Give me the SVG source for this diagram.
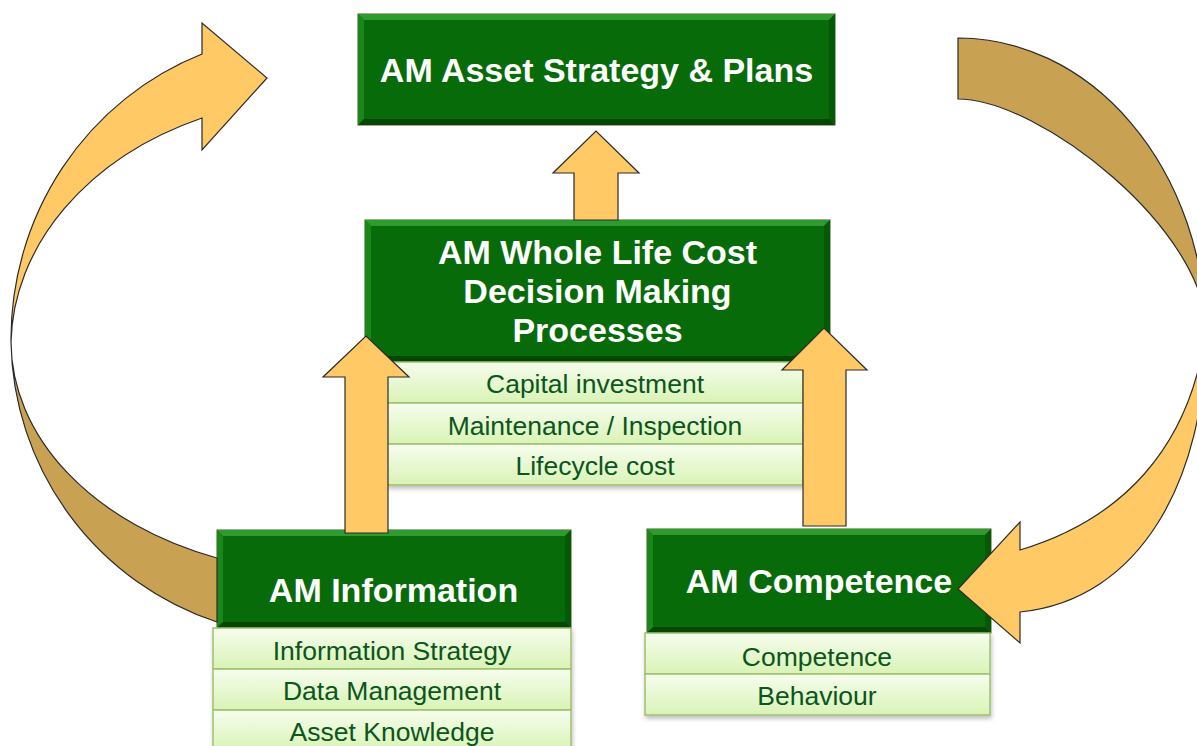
<svg xmlns="http://www.w3.org/2000/svg" width="1197" height="746" viewBox="0 0 1197 746">
<defs>
<linearGradient id="rowg" x1="0" y1="0" x2="0" y2="1">
<stop offset="0" stop-color="#F6FDEE"/>
<stop offset="1" stop-color="#D9F3B6"/>
</linearGradient>
<filter id="sh" x="-5%" y="-5%" width="110%" height="120%">
<feDropShadow dx="1" dy="3" stdDeviation="2" flood-color="#000" flood-opacity="0.25"/>
</filter>
</defs>
<style>
.box{fill:#086B0A;stroke:#6B704A;stroke-width:1.2}
.bt{fill:#2E9B2E}
.bl{fill:#1B871B}
.br{fill:#055805}
.bb{fill:#044704}
.row{fill:url(#rowg);stroke:#9DC16B;stroke-width:1.5}
.title{font-family:"Liberation Sans",Arial,sans-serif;font-weight:bold;font-size:34px;fill:#FFFFFF;text-anchor:middle}
.sub{font-family:"Liberation Sans",Arial,sans-serif;font-size:26.5px;fill:#0B561C;text-anchor:middle}
.al{fill:#FFC966;stroke:#2B2B2B;stroke-width:1.2;stroke-linejoin:miter}
.ad{fill:#C9A152;stroke:#2B2B2B;stroke-width:1.2}
</style>
<rect width="1197" height="746" fill="#FFFFFF"/>

<g id="node-strategy">
<rect class="box" x="358" y="14" width="477" height="111"/>
<polygon class="bt" points="358,14 835,14 829,20 364,20"/>
<polygon class="bl" points="358,14 364,20 364,119 358,125"/>
<polygon class="br" points="835,14 835,125 829,119 829,20"/>
<polygon class="bb" points="358,125 835,125 829,119 364,119"/>
<text class="title" x="596.5" y="82">AM Asset Strategy &amp; Plans</text>
</g>

<g id="node-wlc">
<rect class="box" x="365" y="220" width="465" height="142"/>
<polygon class="bt" points="365,220 830,220 824,226 371,226"/>
<polygon class="bl" points="365,220 371,226 371,356 365,362"/>
<polygon class="br" points="830,220 830,362 824,356 824,226"/>
<polygon class="bb" points="365,362 830,362 824,356 371,356"/>
<text class="title" x="597.5" y="264">AM Whole Life Cost</text>
<text class="title" x="597.5" y="303">Decision Making</text>
<text class="title" x="597.5" y="342">Processes</text>
<g filter="url(#sh)">
<rect class="row" x="387" y="362" width="416" height="41"/>
<rect class="row" x="387" y="403" width="416" height="41"/>
<rect class="row" x="387" y="444" width="416" height="41"/>
</g>
<text class="sub" x="595" y="393">Capital investment</text>
<text class="sub" x="595" y="435">Maintenance / Inspection</text>
<text class="sub" x="595" y="475">Lifecycle cost</text>
</g>

<g id="node-information">
<rect class="box" x="217" y="530" width="354" height="98"/>
<polygon class="bt" points="217,530 571,530 565,536 223,536"/>
<polygon class="bl" points="217,530 223,536 223,622 217,628"/>
<polygon class="br" points="571,530 571,628 565,622 565,536"/>
<polygon class="bb" points="217,628 571,628 565,622 223,622"/>
<text class="title" x="393.5" y="602">AM Information</text>
<g filter="url(#sh)">
<rect class="row" x="213" y="628" width="358" height="41"/>
<rect class="row" x="213" y="669" width="358" height="41"/>
<rect class="row" x="213" y="710" width="358" height="41"/>
</g>
<text class="sub" x="392" y="660">Information Strategy</text>
<text class="sub" x="392" y="700">Data Management</text>
<text class="sub" x="392" y="741">Asset Knowledge</text>
</g>

<g id="node-competence">
<rect class="box" x="647" y="529" width="344" height="104"/>
<polygon class="bt" points="647,529 991,529 985,535 653,535"/>
<polygon class="bl" points="647,529 653,535 653,627 647,633"/>
<polygon class="br" points="991,529 991,633 985,627 985,535"/>
<polygon class="bb" points="647,633 991,633 985,627 653,627"/>
<text class="title" x="819" y="593">AM Competence</text>
<g filter="url(#sh)">
<rect class="row" x="645" y="633" width="345" height="41"/>
<rect class="row" x="645" y="674" width="345" height="41"/>
</g>
<text class="sub" x="817" y="666">Competence</text>
<text class="sub" x="817" y="705">Behaviour</text>
</g>

<g id="connectors">
<path class="ad" d="M 11 342 A 300 300 0 0 0 217 622 L 217 558 A 320 232 0 0 1 11 342 Z"/>
<path class="al" d="M 202 54 L 202 23 L 267 78 L 202 150 L 202 118 A 320 250 0 0 0 11 342 A 300 306 0 0 1 202 54 Z"/>
<path class="ad" d="M 958 38 A 248 300 0 0 1 1206 330 C 1206 230 1040 99 958 99 Z"/>
<path class="al" d="M 1206 330 C 1206 480 1140 600 1020 612 L 1020 643 L 958 589 L 1020 522 L 1020 550 C 1120 520 1190 450 1206 330 Z"/>
<path class="al" d="M 574 220 L 574 173 L 553 173 L 596 131 L 639 173 L 618 173 L 618 220 Z"/>
<path class="al" d="M 345 533 L 345 377 L 323 377 L 366 336 L 409 377 L 388 377 L 388 533 Z"/>
<path class="al" d="M 803 526 L 803 370 L 782 370 L 824 328 L 867 370 L 846 370 L 846 526 Z"/>
</g>
</svg>
